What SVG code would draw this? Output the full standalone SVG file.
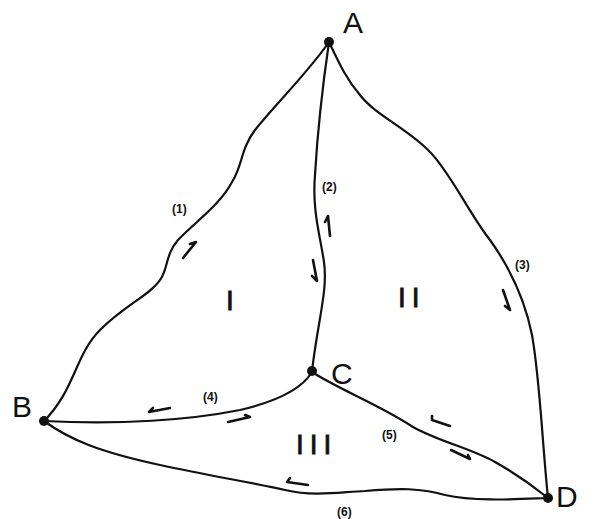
<svg xmlns="http://www.w3.org/2000/svg" width="596" height="519" viewBox="0 0 596 519">
<style>
.e{fill:none;stroke:#111;stroke-width:2.2;stroke-linecap:round;stroke-linejoin:round}
.ar{fill:none;stroke:#111;stroke-width:2.6;stroke-linecap:round;stroke-linejoin:round}
.n{fill:#111}
.lbl{font-family:"Liberation Sans",Arial,sans-serif;fill:#111}
.big{font-size:30px}
.sm{font-size:12px;font-weight:bold}
.rom{font-size:28px;letter-spacing:6px;stroke:#111;stroke-width:0.8}
</style>
<rect width="596" height="519" fill="#fff"/>
<g id="connectors">
<path id="e1" class="e" d="M329,42 C310,70 275,105 255,130 C240,150 243,165 232,182 C220,205 195,222 178,240 C165,255 168,270 160,280 C150,295 125,305 100,330 C75,355 75,390 44,421"/>
<path id="e2" class="e" d="M329,42 C322,90 317,140 315,175 C312,210 320,235 324,262 C328,290 318,320 312,371"/>
<path id="e3" class="e" d="M329,42 C340,65 347,80 360,95 C375,115 410,130 430,152 C450,172 470,215 490,240 C510,268 525,300 532,335 C540,380 542,440 548,498"/>
<path id="e4" class="e" d="M44,421 C120,425 190,420 240,410 C270,403 300,392 312,372"/>
<path id="e5" class="e" d="M312,372 C340,390 380,405 413,427 C440,442 470,448 495,462 C520,476 538,490 548,498"/>
<path id="e6" class="e" d="M44,421 C70,440 100,452 160,465 C210,476 250,482 285,490 C315,497 340,492 365,491 C400,488 420,488 445,495 C475,502 520,499 548,498"/>
<path class="ar" d="M183,258 L196,242 L190,244"/>
<path class="ar" d="M330,236 L328,216 L325,222"/>
<path class="ar" d="M313,260 L317,281 L312,276"/>
<path class="ar" d="M503,290 L510,310 L505,306"/>
<path class="ar" d="M170,408 L149,412 L153,408"/>
<path class="ar" d="M228,422 L250,417 L245,415"/>
<path class="ar" d="M450,426 L432,420 L432,416"/>
<path class="ar" d="M451,450 L470,459 L468,455"/>
<path class="ar" d="M308,485 L287,482 L290,478"/>
</g>
<g id="A"><circle class="n" cx="329" cy="42" r="5"/><text class="lbl big" x="343" y="33">A</text></g>
<g id="B"><circle class="n" cx="44" cy="421" r="5"/><text class="lbl big" x="12" y="417">B</text></g>
<g id="C"><circle class="n" cx="312" cy="371" r="5"/><text class="lbl big" x="331" y="384">C</text></g>
<g id="D"><circle class="n" cx="548" cy="498" r="5"/><text class="lbl big" x="556" y="507">D</text></g>
<g id="labels">
<text class="lbl sm" x="172" y="213">(1)</text>
<text class="lbl sm" x="322" y="191">(2)</text>
<text class="lbl sm" x="515" y="269">(3)</text>
<text class="lbl sm" x="203" y="401">(4)</text>
<text class="lbl sm" x="382" y="439">(5)</text>
<text class="lbl sm" x="337" y="516">(6)</text>
<text class="lbl rom" x="226" y="310">I</text>
<text class="lbl rom" x="398" y="307">II</text>
<text class="lbl rom" x="296" y="454">III</text>
</g>
</svg>
